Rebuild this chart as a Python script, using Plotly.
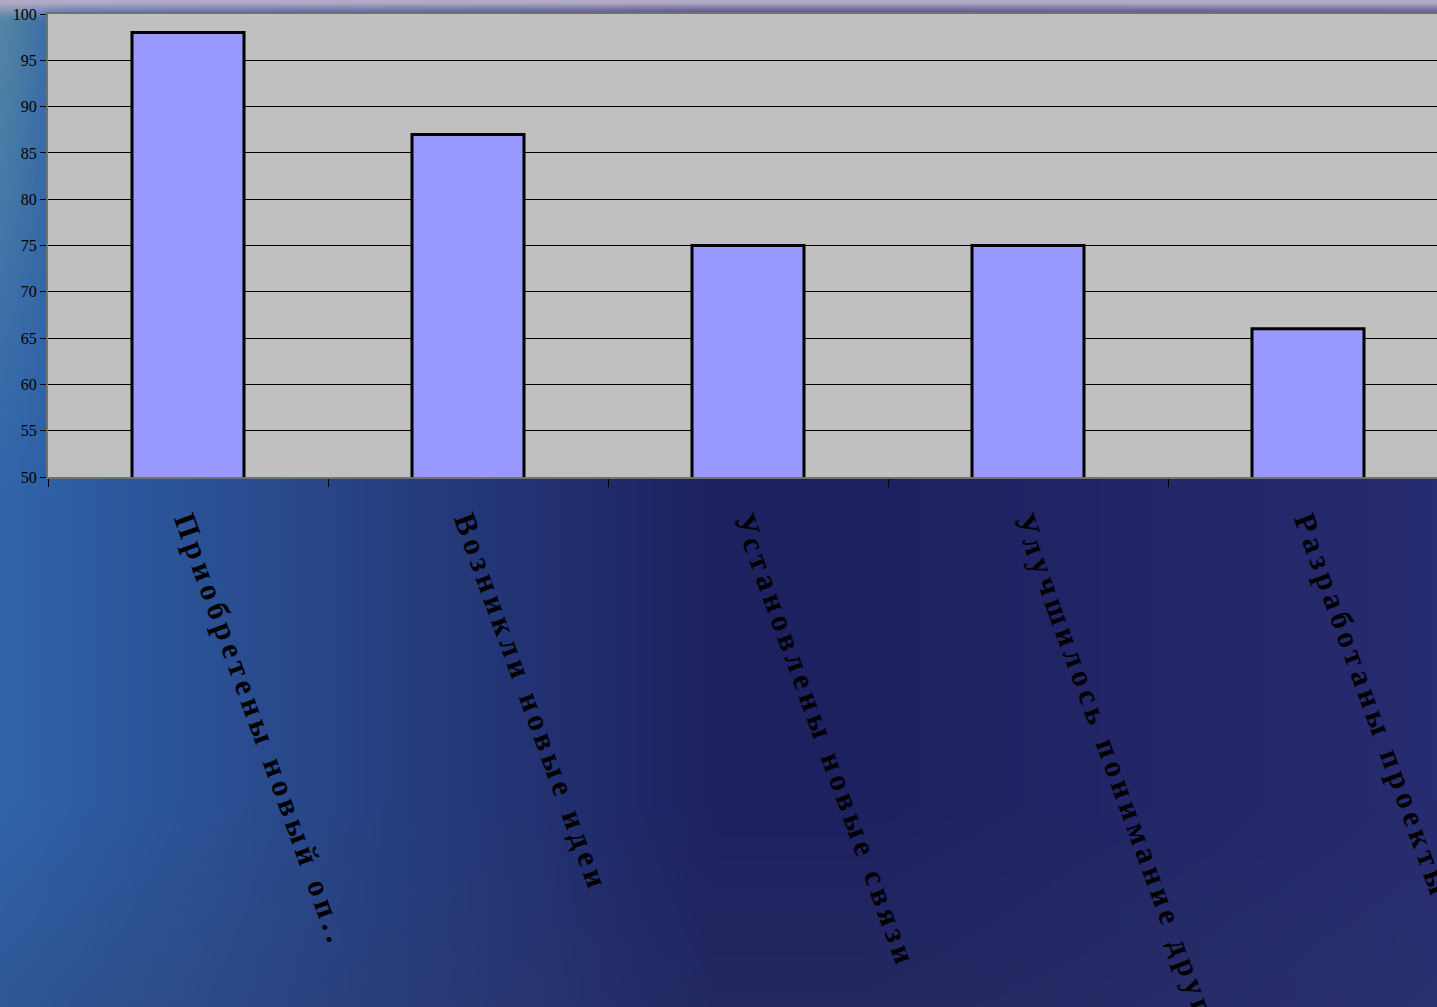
import base64, struct, zlib
import numpy as np
import plotly.graph_objects as go

categories = [
    "Приобретены новый оп..",
    "Возникли новые идеи",
    "Установлены новые связи",
    "Улучшилось понимание друг друга",
    "Разработаны проекты",
]
values = [98, 87, 75, 75, 66]
y_ticks = [50, 55, 60, 65, 70, 75, 80, 85, 90, 95, 100]

W_PX, H_PX = 1437, 1007
ML, MT, MB, MR = 48, 14, 530, 0
PW, PH = W_PX - ML - MR, H_PX - MT - MB


def png_data_uri(arr):
    h, w, _ = arr.shape
    raw = b"".join(b"\x00" + arr[i].tobytes() for i in range(h))
    def chunk(t, d):
        c = struct.pack(">I", len(d)) + t + d
        return c + struct.pack(">I", zlib.crc32(t + d) & 0xffffffff)
    png = b"\x89PNG\r\n\x1a\n" + chunk(b"IHDR", struct.pack(">IIBBBBB", w, h, 8, 2, 0, 0, 0))
    png += chunk(b"IDAT", zlib.compress(raw, 9)) + chunk(b"IEND", b"")
    return "data:image/png;base64," + base64.b64encode(png).decode()


# background gradient resembling the sea picture
gw, gh = 288, 202
u = np.linspace(0, 1, gw)[None, :, None]
v = np.linspace(0, 1, gh)[:, None, None]
left = np.array([48, 100, 170], float)
navy = np.array([30, 33, 95], float)
right = np.array([40, 44, 112], float)
t = np.clip(u / 0.5, 0, 1)
col = left * (1 - t) + navy * t
t2 = np.clip((u - 0.6) / 0.4, 0, 1)
col = col * (1 - t2) + right * t2
bot = np.clip((v - 0.8) / 0.2, 0, 1)
col = col * (1 - bot * 0.3) + np.array([48, 58, 105], float) * bot * 0.3
teal = np.array([85, 135, 165], float)
tl = np.clip(1 - v / 0.5, 0, 1) * np.clip(1 - u / 0.05, 0, 1)
col = col * (1 - tl) + teal * tl
top = np.clip(1 - v / 0.016, 0, 1)
col = col * (1 - top) + np.array([178, 170, 198], float) * top
img = np.clip(col, 0, 255).astype(np.uint8)
bg_uri = png_data_uri(img)

tick_text = ['<span style="letter-spacing:5px">%s</span>' % c for c in categories]

fig = go.Figure()
fig.add_trace(go.Bar(
    x=categories, y=values, width=0.4,
    marker=dict(color="#9999ff", line=dict(color="black", width=3)),
    hoverinfo="skip",
))

fig.update_layout(
    width=W_PX, height=H_PX,
    margin=dict(l=ML, r=MR, t=MT, b=MB, autoexpand=False),
    paper_bgcolor="#1e2160",
    plot_bgcolor="#c0c0c0",
    showlegend=False,
    images=[dict(
        source=bg_uri, xref="paper", yref="paper",
        x=-ML / PW, y=1 + MT / PH, sizex=W_PX / PW, sizey=H_PX / PH,
        xanchor="left", yanchor="top", sizing="stretch", layer="below",
    )],
    shapes=[dict(
        type="rect", xref="paper", yref="paper", x0=0, x1=1, y0=0, y1=1,
        fillcolor="#c0c0c0", line=dict(width=0), layer="below",
    )],
)
fig.update_xaxes(
    range=[-0.5, -0.5 + PW / 280.0],
    tickmode="array", tickvals=categories, ticktext=tick_text,
    tickson="boundaries", ticks="outside", ticklen=8, tickcolor="black", tickwidth=1,
    showline=True, linecolor="#707070", linewidth=2, mirror=True,
    showgrid=False, tickangle=70, automargin=False, ticklabelstandoff=12,
    tickfont=dict(family="Liberation Serif", size=31, color="black", weight="bold"),
)
fig.update_yaxes(
    range=[50, 100], tickvals=y_ticks, ticks="outside", ticklen=6, tickcolor="black",
    showline=True, linecolor="#707070", linewidth=2,
    showgrid=True, gridcolor="black", gridwidth=1, zeroline=False, automargin=False,
    tickfont=dict(family="Liberation Serif", size=16, color="black"),
)

fig.write_html("out.html", config={"displayModeBar": False},
               post_script="document.body.style.margin='0';")
